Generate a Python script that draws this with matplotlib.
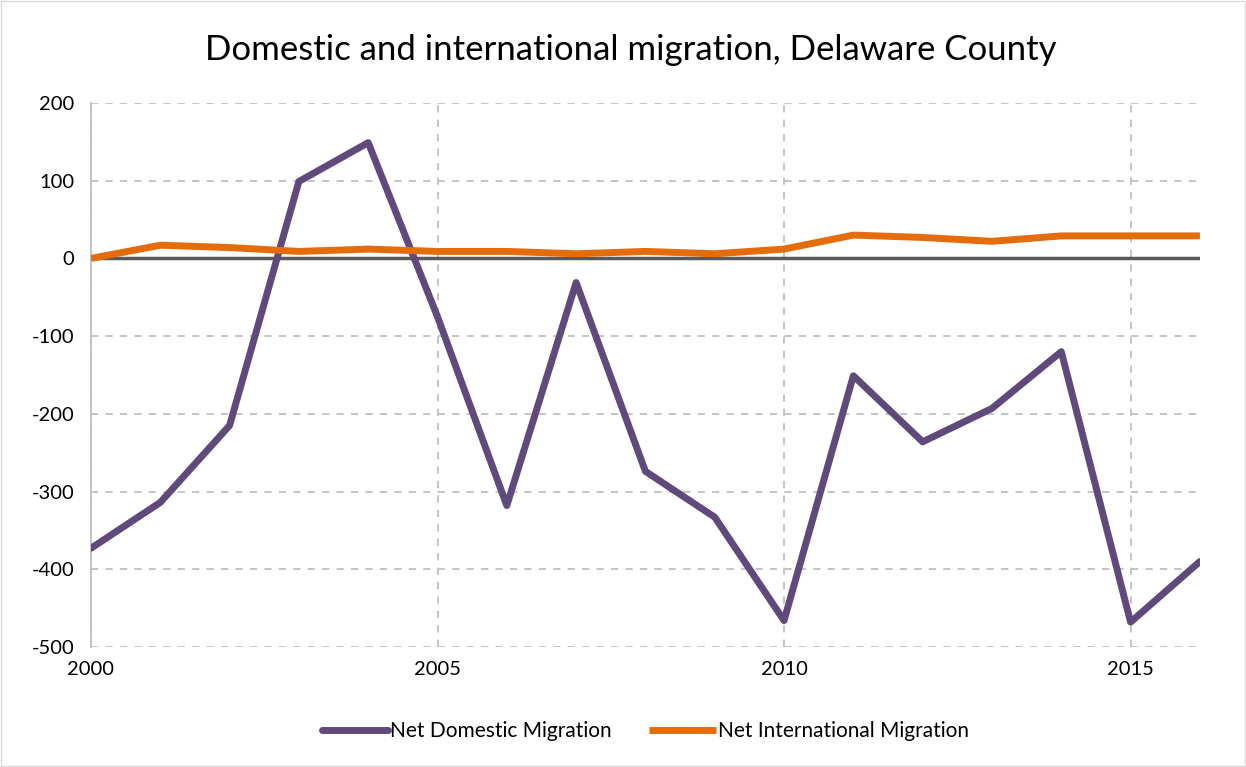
import matplotlib
matplotlib.use('Agg')
import matplotlib.pyplot as plt
from matplotlib.patches import Rectangle

years = list(range(2000, 2017))
domestic = [-373, -314, -215, 99, 149, -75, -318, -31, -274, -333, -466,
            -151, -236, -193, -120, -468, -390]
international = [0, 17, 14, 9, 12, 9, 9, 6, 9, 6, 12, 30, 27, 22, 29, 29, 29]

plt.rcParams['font.family'] = ['Lato', 'DejaVu Sans']
plt.rcParams['axes.unicode_minus'] = False

fig = plt.figure(figsize=(12.46, 7.67), dpi=100)
ax = fig.add_axes([0.073, 0.1565, 0.890, 0.7092])

ax.axhline(0, color='#595959', lw=2.5, zorder=2)
ax.plot(years, domestic, color='#604A7B', lw=5, solid_capstyle='round',
        label='Net Domestic Migration', zorder=3)
ax.plot(years, international, color='#E46C0A', lw=5, solid_capstyle='butt',
        label='Net International Migration', zorder=3)

ax.set_xlim(2000, 2016)
ax.set_ylim(-500, 200)
ax.set_xticks([2000, 2005, 2010, 2015])
ax.set_yticks(range(-500, 201, 100))
ax.grid(True, ls=(0, (4, 4)), color='#BFBFBF', lw=1.3)
ax.set_axisbelow(True)
for side in ['top', 'right', 'bottom']:
    ax.spines[side].set_visible(False)
ax.spines['left'].set_color('#BFBFBF')
ax.spines['left'].set_linewidth(1.3)
ax.tick_params(length=0, labelsize=14.5, colors='black')
ax.tick_params(axis='x', pad=10)
ax.tick_params(axis='y', pad=12)

fig.text(0.506, 0.935, 'Domestic and international migration, Delaware County',
         ha='center', va='center', fontsize=25)

ax.legend(loc='center', bbox_to_anchor=(0.5, -0.155), ncol=2, frameon=False,
          fontsize=15, handlelength=3.2, handletextpad=0.1, columnspacing=1.8)

fig.patches.append(Rectangle((0.001, 0.001), 0.998, 0.998, transform=fig.transFigure,
                             fill=False, edgecolor='#D9D9D9', lw=1))

fig.savefig('out.png', dpi=100)
